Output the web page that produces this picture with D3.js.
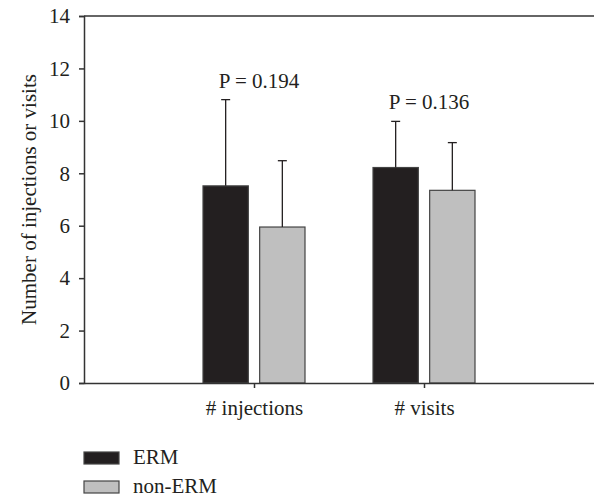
<!DOCTYPE html>
<html>
<head>
<meta charset="utf-8">
<script src="https://cdn.jsdelivr.net/npm/d3@7"></script>
<style>
  body { margin: 0; background: #fff; }
</style>
</head>
<body>
<div id="chart"></div>
<script>
const categories = ['# injections', '# visits']
const seriesNames = ['ERM', 'non-ERM']
const ermMeans = [7.52, 8.22]
const ermErrors = [3.29, 1.76]
const nonErmMeans = [5.95, 7.35]
const nonErmErrors = [2.53, 1.82]
const pLabels = ['P = 0.194', 'P = 0.136']
const yTicks = [0, 2, 4, 6, 8, 10, 12, 14]

const width = 594
const height = 496
const colors = ['#231f20', '#bfbfbf']
const axisColor = '#333'
const serif = "'Liberation Serif', 'Times New Roman', serif"
const fontSize = '21px'

const rows = []
categories.forEach((c, i) => {
  rows.push({ cat: i, series: 'ERM', mean: ermMeans[i], err: ermErrors[i] })
  rows.push({ cat: i, series: 'non-ERM', mean: nonErmMeans[i], err: nonErmErrors[i] })
})

const svg = d3.select('#chart')
  .append('svg')
  .attr('width', width)
  .attr('height', height)
  .style('font-family', serif)

const x = d3.scaleLinear().domain([0, 3]).range([84, 594])
const x1 = d3.scaleBand().domain(seriesNames).range([-51, 51]).paddingInner(0.2)
const y = d3.scaleLinear().domain([0, 14]).range([383, 16])

// frame: top line and left spine
svg.append('line')
  .attr('x1', x(0)).attr('x2', x(3))
  .attr('y1', y(14)).attr('y2', y(14))
  .attr('stroke', axisColor).attr('stroke-width', 1.5)

const yAxis = svg.append('g')
  .attr('transform', `translate(${x(0)},0)`)
  .call(d3.axisLeft(y).tickValues(yTicks).tickSize(5).tickPadding(9))
yAxis.attr('font-family', serif).attr('font-size', fontSize)
yAxis.select('.domain').attr('stroke', axisColor).attr('stroke-width', 1.5)
yAxis.selectAll('.tick line').attr('stroke', axisColor).attr('stroke-width', 1.5)
yAxis.selectAll('.tick text').attr('fill', '#231f20')

// bars
const bars = svg.append('g')
bars.selectAll('rect')
  .data(rows)
  .enter()
  .append('rect')
  .attr('x', d => x(d.cat + 1) + x1(d.series))
  .attr('width', x1.bandwidth())
  .attr('y', d => y(d.mean))
  .attr('height', d => y(0) - y(d.mean))
  .attr('fill', d => colors[seriesNames.indexOf(d.series)])
  .attr('stroke', '#444')
  .attr('stroke-width', 1.2)

// error bars (upper only)
const errs = svg.append('g').attr('stroke', '#231f20').attr('stroke-width', 1.3)
errs.selectAll('line.stem')
  .data(rows)
  .enter()
  .append('line')
  .attr('class', 'stem')
  .attr('x1', d => x(d.cat + 1) + x1(d.series) + x1.bandwidth() / 2)
  .attr('x2', d => x(d.cat + 1) + x1(d.series) + x1.bandwidth() / 2)
  .attr('y1', d => y(d.mean))
  .attr('y2', d => y(d.mean + d.err))
errs.selectAll('line.cap')
  .data(rows)
  .enter()
  .append('line')
  .attr('class', 'cap')
  .attr('x1', d => x(d.cat + 1) + x1(d.series) + x1.bandwidth() / 2 - 4.5)
  .attr('x2', d => x(d.cat + 1) + x1(d.series) + x1.bandwidth() / 2 + 4.5)
  .attr('y1', d => y(d.mean + d.err))
  .attr('y2', d => y(d.mean + d.err))

// x axis
const xAxis = svg.append('g')
  .attr('transform', `translate(0,${y(0)})`)
  .call(d3.axisBottom(x).tickValues([1, 2]).tickFormat((d, i) => categories[i]).tickSize(5).tickPadding(12).tickSizeOuter(0))
xAxis.attr('font-family', serif).attr('font-size', fontSize)
xAxis.select('.domain').attr('stroke', axisColor).attr('stroke-width', 1.5)
xAxis.selectAll('.tick line').attr('stroke', axisColor).attr('stroke-width', 1.5)
xAxis.selectAll('.tick text').attr('fill', '#231f20')

// p-values above the taller error bar of each group
svg.selectAll('text.pval')
  .data(pLabels)
  .enter()
  .append('text')
  .attr('class', 'pval')
  .attr('x', (d, i) => x(i + 1) + 5)
  .attr('y', (d, i) => y(Math.max(ermMeans[i] + ermErrors[i], nonErmMeans[i] + nonErmErrors[i])) - 12)
  .attr('text-anchor', 'middle')
  .attr('font-size', fontSize)
  .attr('fill', '#231f20')
  .text(d => d)

// y label
svg.append('text')
  .attr('transform', `translate(36,${(y(0) + y(14)) / 2}) rotate(-90)`)
  .attr('text-anchor', 'middle')
  .attr('font-size', fontSize)
  .attr('fill', '#231f20')
  .text('Number of injections or visits')

// legend
const legend = svg.append('g')
  .attr('transform', 'translate(84, 452)')
  .selectAll('g')
  .data(seriesNames)
  .enter()
  .append('g')
  .attr('transform', (d, i) => `translate(0, ${i * 29})`)
legend.append('rect')
  .attr('width', 35)
  .attr('height', 12)
  .attr('fill', (d, i) => colors[i])
  .attr('stroke', '#444')
  .attr('stroke-width', 1.2)
legend.append('text')
  .attr('x', 49)
  .attr('y', 11.5)
  .attr('font-size', fontSize)
  .attr('fill', '#231f20')
  .text(d => d)
</script>
</body>
</html>
